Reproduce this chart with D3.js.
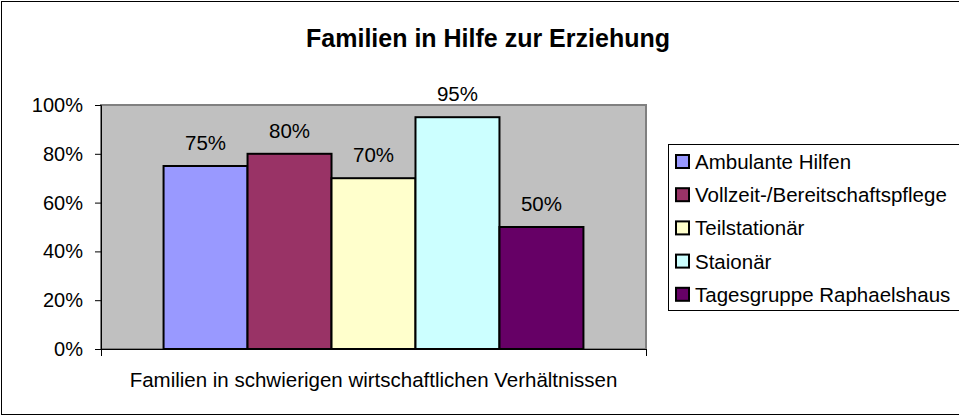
<!DOCTYPE html>
<html>
<head>
<meta charset="utf-8">
<script src="https://cdn.jsdelivr.net/npm/d3@7"></script>
<style>
  body { margin: 0; background: #fff; overflow: hidden; }
  svg { display: block; font-family: Arial, "Liberation Sans", sans-serif; }
</style>
</head>
<body>
<div id="chart"></div>
<script>
var title = 'Familien in Hilfe zur Erziehung';
var category = 'Familien in schwierigen wirtschaftlichen Verhältnissen';
var seriesNames = ['Ambulante Hilfen', 'Vollzeit-/Bereitschaftspflege', 'Teilstationär', 'Staionär', 'Tagesgruppe Raphaelshaus'];
var seriesValues = [0.75, 0.80, 0.70, 0.95, 0.50];
var seriesColors = ['#9999FF', '#993366', '#FFFFCC', '#CCFFFF', '#660066'];
var yTicks = [0, 0.2, 0.4, 0.6, 0.8, 1.0];

var W = 959, H = 416;
var plot = {left: 101, right: 646, top: 105, bottom: 349};

var svg = d3.select('#chart').append('svg')
  .attr('width', W)
  .attr('height', H);

// outer frame (right edge falls outside the picture)
svg.append('rect')
  .attr('x', 1.5).attr('y', 1.5)
  .attr('width', W + 10).attr('height', H - 3)
  .attr('fill', '#fff')
  .attr('stroke', '#000')
  .attr('stroke-width', 1);

svg.append('text')
  .attr('x', 488).attr('y', 47)
  .attr('text-anchor', 'middle')
  .attr('font-size', '25px')
  .attr('font-weight', 'bold')
  .text(title);

var y = d3.scaleLinear().domain([0, 1]).range([plot.bottom, plot.top]);

// the single category holds the group, series sit side by side inside it
var x0 = d3.scaleBand().domain([category]).range([plot.left, plot.right]).paddingInner(0).paddingOuter(0.149);
var x1 = d3.scaleBand().domain(seriesNames).range([0, x0.bandwidth()]).padding(0);

// plot background
svg.append('rect')
  .attr('x', plot.left).attr('y', plot.top)
  .attr('width', plot.right - plot.left).attr('height', plot.bottom - plot.top)
  .attr('fill', '#C0C0C0')
  .attr('stroke', '#808080')
  .attr('stroke-width', 2);

var bars = svg.append('g').attr('transform', 'translate(' + x0(category) + ',0)');

bars.selectAll('rect')
  .data(seriesNames)
  .enter()
  .append('rect')
  .attr('x', function(d) { return x1(d); })
  .attr('y', function(d, i) { return y(seriesValues[i]); })
  .attr('width', x1.bandwidth())
  .attr('height', function(d, i) { return y(0) - y(seriesValues[i]); })
  .attr('fill', function(d, i) { return seriesColors[i]; })
  .attr('stroke', '#000')
  .attr('stroke-width', 2);

bars.selectAll('.lbl')
  .data(seriesNames)
  .enter()
  .append('text')
  .attr('class', 'lbl')
  .attr('x', function(d) { return x1(d) + x1.bandwidth() / 2; })
  .attr('y', function(d, i) { return y(seriesValues[i]) - 16; })
  .attr('text-anchor', 'middle')
  .attr('font-size', '20.5px')
  .text(function(d, i) { return d3.format('.0%')(seriesValues[i]); });

// y axis
var yAxis = d3.axisLeft(y).tickValues(yTicks).tickFormat(d3.format('.0%')).tickSize(6).tickPadding(12);
var ya = svg.append('g').attr('transform', 'translate(' + plot.left + ',0)').call(yAxis);
ya.select('.domain').attr('stroke', '#000').attr('stroke-width', 1);
ya.selectAll('.tick line').attr('stroke', '#000');
ya.selectAll('text').attr('font-size', '20px').attr('font-family', 'Arial, "Liberation Sans", sans-serif').attr('fill', '#000');

// x axis
var xAxisScale = d3.scaleLinear().domain([0, 1]).range([plot.left, plot.right]);
var xa = svg.append('g').attr('transform', 'translate(0,' + plot.bottom + ')')
  .call(d3.axisBottom(xAxisScale).tickValues([0, 1]).tickFormat('').tickSizeInner(7).tickSizeOuter(0));
xa.select('.domain').attr('stroke', '#000');
xa.selectAll('.tick line').attr('stroke', '#000');

svg.append('text')
  .attr('x', x0(category) + x0.bandwidth() / 2)
  .attr('y', 387)
  .attr('text-anchor', 'middle')
  .attr('font-size', '20.5px')
  .text(category);

// legend
var lg = svg.append('g').attr('transform', 'translate(668,144)');
lg.append('rect')
  .attr('x', 0.5).attr('y', 0.5)
  .attr('width', 320).attr('height', 166)
  .attr('fill', '#fff')
  .attr('stroke', '#000');

var items = lg.selectAll('.item')
  .data(seriesNames)
  .enter()
  .append('g')
  .attr('class', 'item')
  .attr('transform', function(d, i) { return 'translate(8,' + (17.5 + i * 33.2) + ')'; });

items.append('rect')
  .attr('x', 0).attr('y', -6.5)
  .attr('width', 13).attr('height', 13)
  .attr('fill', function(d, i) { return seriesColors[i]; })
  .attr('stroke', '#000')
  .attr('stroke-width', 2);

items.append('text')
  .attr('x', 19).attr('y', 7.5)
  .attr('font-size', '20.5px')
  .text(function(d) { return d; });
</script>
</body>
</html>
